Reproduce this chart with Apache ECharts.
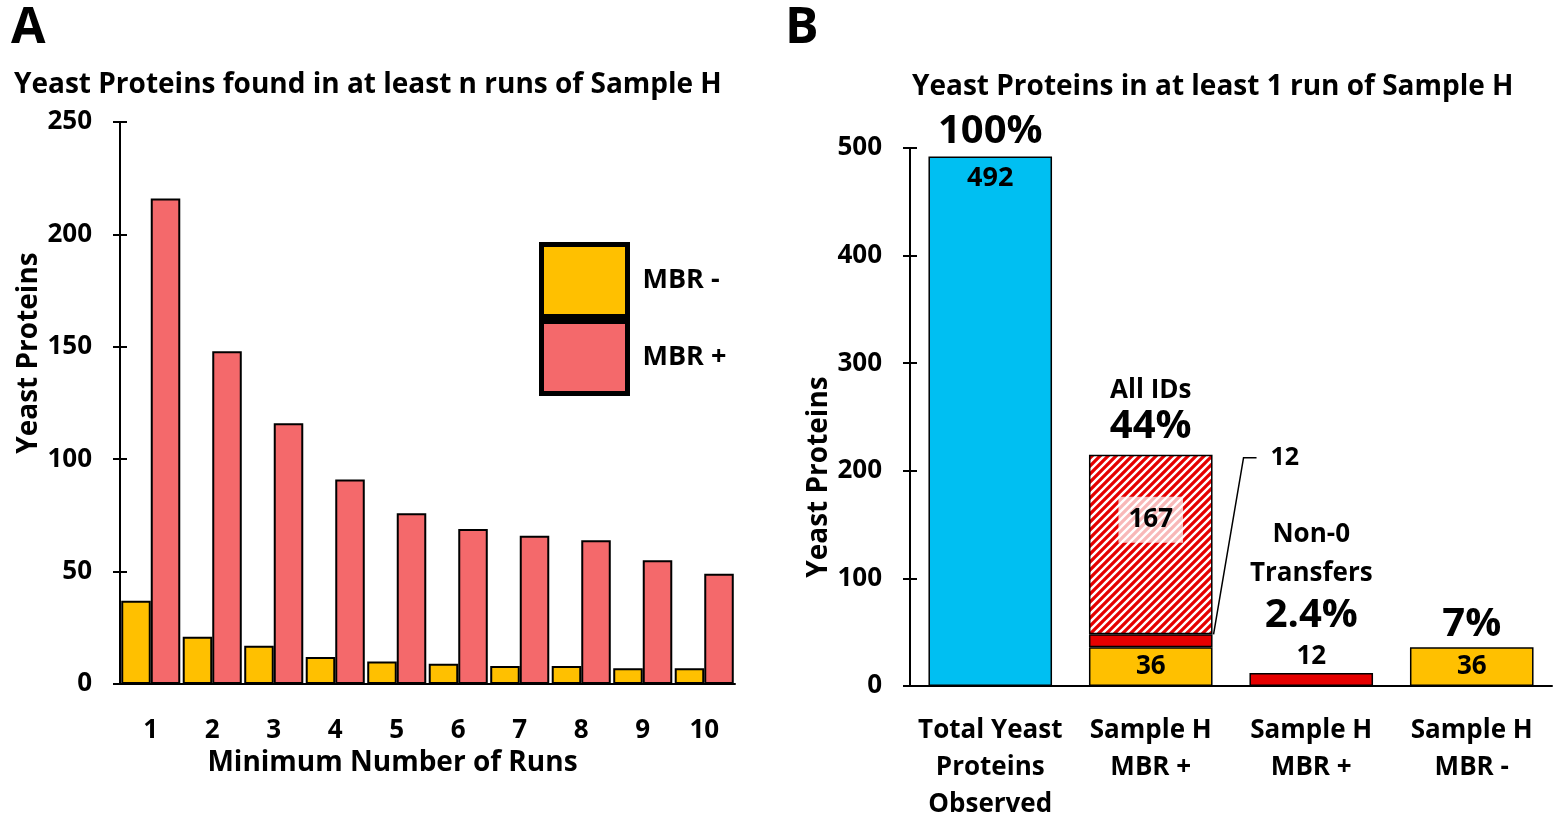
<!DOCTYPE html>
<html><head><meta charset="utf-8">
<script src="https://cdn.jsdelivr.net/npm/echarts@6/dist/echarts.min.js"></script>
<style>html,body{margin:0;padding:0;background:#fff}#c{width:1558px;height:823px}</style>
</head><body><div id="c"></div><script>
// Panel A data
const runs = ['1','2','3','4','5','6','7','8','9','10'];
const mbrMinus = [37, 21, 17, 12, 10, 9, 8, 8, 7, 7];
const mbrPlus = [216, 148, 116, 91, 76, 69, 66, 64, 55, 49];
// Panel B data
const bCategories = ['Total Yeast\nProteins\nObserved', 'Sample H\nMBR +', 'Sample H\nMBR +', 'Sample H\nMBR -'];
const bTotal = [492, '-', '-', '-'];
const bMbrMinus = ['-', 36, '-', 36];
const bTransfers = ['-', 12, 12, '-'];
const bOther = ['-', 167, '-', '-'];
const bNotes = ['{p|100%}', '{s|All IDs}\n{p|44%}', '{t|Non-0}\n{t|Transfers}\n{p|2.4%}\n{t|12}', '{p|7%}'];

const FONT = 'Open Sans';
const YEL = '#FFC000', SAL = '#F4696B', BLUE = '#00BFF2', RED = '#E60000';

// hatch pattern
const pc = document.createElement('canvas');
pc.width = 8; pc.height = 8;
const g = pc.getContext('2d');
g.fillStyle = RED; g.fillRect(0, 0, 8, 8);
g.strokeStyle = '#fff'; g.lineWidth = 2.4;
g.beginPath();
g.moveTo(-2, 10); g.lineTo(10, -2);
g.moveTo(-2, 2); g.lineTo(2, -2);
g.moveTo(6, 10); g.lineTo(10, 6);
g.stroke();

function stackTop(i) {
  let s = 0;
  [bTotal, bMbrMinus, bTransfers, bOther].forEach(a => { if (typeof a[i] === 'number') s += a[i]; });
  return s;
}
const noteDist = [2, 6, -4, 0];
const BAR_W = 0.77;

const chart = echarts.init(document.getElementById('c'), null, {renderer: 'canvas'});
const axisTxt = {color: '#000', fontFamily: FONT, fontWeight: 'bold', fontSize: 26};
const nameTxt = {color: '#000', fontFamily: FONT, fontWeight: 'bold', fontSize: 28};
const innerTickAxis = (gi, max, iv) => ({gridIndex: gi, type: 'value', min: 0, max: max, interval: iv, position: 'left',
  axisLine: {show: false}, axisLabel: {show: false}, splitLine: {show: false},
  axisTick: {show: true, inside: true, length: 7, lineStyle: {color: '#000', width: 2}}});
chart.setOption({
  animation: false,
  backgroundColor: '#fff',
  textStyle: {fontFamily: FONT},
  title: [
    {text: 'A', left: 6, top: -1, textStyle: {fontSize: 50, fontWeight: 'bold', fontFamily: FONT, color: '#000'}},
    {text: 'B', left: 780, top: -1, textStyle: {fontSize: 50, fontWeight: 'bold', fontFamily: FONT, color: '#000'}},
    {text: 'Yeast Proteins found in at least n runs of Sample H', left: 9, top: 66, textStyle: {fontSize: 28, fontWeight: 'bold', fontFamily: FONT, color: '#000'}},
    {text: 'Yeast Proteins in at least 1 run of Sample H', left: 907, top: 68, textStyle: {fontSize: 28, fontWeight: 'bold', fontFamily: FONT, color: '#000'}}
  ],
  legend: {
    data: [
      {name: 'MBR -', textStyle: {padding: [0, 0, 14, 10]}},
      {name: 'MBR +', textStyle: {padding: [0, 0, 34, 10]}}
    ],
    orient: 'vertical', left: 539, top: 242, padding: 0,
    itemWidth: 86, itemHeight: 72, itemGap: 0,
    icon: 'rect',
    itemStyle: {borderColor: '#000', borderWidth: 5},
    textStyle: {fontFamily: FONT, fontWeight: 'bold', fontSize: 27, color: '#000'},
    selectedMode: false
  },
  grid: [
    {left: 120, top: 122, width: 615, height: 562},
    {left: 910, top: 148, width: 642, height: 543}
  ],
  xAxis: [
    {gridIndex: 0, type: 'category', data: runs,
     axisLine: {lineStyle: {color: '#000', width: 2}}, axisTick: {show: false},
     axisLabel: Object.assign({margin: 34}, axisTxt),
     name: 'Minimum Number of Runs', nameLocation: 'middle', nameGap: 61,
     nameTextStyle: Object.assign({padding: [0, 70, 0, 0]}, nameTxt)},
    {gridIndex: 1, type: 'category', data: bCategories,
     axisLine: {lineStyle: {color: '#000', width: 2}}, axisTick: {show: false},
     axisLabel: Object.assign({margin: 26, interval: 0, lineHeight: 37}, axisTxt)}
  ],
  yAxis: [
    {gridIndex: 0, type: 'value', min: 0, max: 250, interval: 50,
     axisLine: {show: true, lineStyle: {color: '#000', width: 2}},
     axisTick: {show: true, length: 7, lineStyle: {color: '#000', width: 2}},
     splitLine: {show: false},
     axisLabel: Object.assign({margin: 28}, axisTxt),
     name: 'Yeast Proteins', nameLocation: 'middle', nameGap: 76,
     nameTextStyle: Object.assign({padding: [0, 0, 0, 100]}, nameTxt)},
    {gridIndex: 1, type: 'value', min: 0, max: 500, interval: 100,
     axisLine: {show: true, lineStyle: {color: '#000', width: 2}},
     axisTick: {show: true, length: 7, lineStyle: {color: '#000', width: 2}},
     splitLine: {show: false},
     axisLabel: Object.assign({margin: 28}, axisTxt),
     name: 'Yeast Proteins', nameLocation: 'middle', nameGap: 76,
     nameTextStyle: Object.assign({padding: [0, 120, 0, 0]}, nameTxt)},
    innerTickAxis(0, 250, 50),
    innerTickAxis(1, 500, 100)
  ],
  series: [
    {name: 'MBR -', type: 'bar', xAxisIndex: 0, yAxisIndex: 0, data: mbrMinus,
     barGap: '0%', barCategoryGap: '4%',
     itemStyle: {color: YEL, borderColor: '#000', borderWidth: 2}},
    {name: 'MBR +', type: 'bar', xAxisIndex: 0, yAxisIndex: 0, data: mbrPlus,
     barGap: '0%', barCategoryGap: '4%',
     itemStyle: {color: SAL, borderColor: '#000', borderWidth: 2}},
    {name: 'total', type: 'bar', stack: 'b', xAxisIndex: 1, yAxisIndex: 1, data: bTotal,
     barWidth: (BAR_W * 100) + '%',
     itemStyle: {color: BLUE, borderColor: '#000', borderWidth: 1.5},
     label: {show: true, position: 'insideTop', distance: 8, color: '#000', fontFamily: FONT, fontWeight: 'bold', fontSize: 27},
     markPoint: {
       symbol: 'rect', symbolSize: 1, itemStyle: {color: 'rgba(0,0,0,0)'},
       label: {show: true, position: 'top', color: '#000', fontFamily: FONT,
         formatter: p => p.data.note,
         rich: {p: {fontSize: 40, fontWeight: 'bold', fontFamily: FONT, lineHeight: 44},
                s: {fontSize: 26, fontWeight: 'bold', fontFamily: FONT, lineHeight: 28},
                t: {fontSize: 26, fontWeight: 'bold', fontFamily: FONT, lineHeight: 39}}},
       data: bNotes.map((n, i) => ({coord: [i, stackTop(i)], note: n, label: {distance: noteDist[i]}}))
     }},
    {name: 'minus', type: 'bar', stack: 'b', xAxisIndex: 1, yAxisIndex: 1, data: bMbrMinus,
     barWidth: (BAR_W * 100) + '%',
     itemStyle: {color: YEL, borderColor: '#000', borderWidth: 1.5},
     label: {show: true, position: 'inside', color: '#000', fontFamily: FONT, fontWeight: 'bold', fontSize: 26}},
    {name: 'transfers', type: 'bar', stack: 'b', xAxisIndex: 1, yAxisIndex: 1, data: bTransfers,
     barWidth: (BAR_W * 100) + '%',
     itemStyle: {color: RED, borderColor: '#000', borderWidth: 1.5}},
    {name: 'other', type: 'bar', stack: 'b', xAxisIndex: 1, yAxisIndex: 1, data: bOther,
     barWidth: (BAR_W * 100) + '%',
     itemStyle: {color: {image: pc, repeat: 'repeat'}, borderColor: '#000', borderWidth: 1.5},
     label: {show: true, position: 'insideTop', distance: 42, color: '#000', fontFamily: FONT, fontWeight: 'bold', fontSize: 26,
       backgroundColor: 'rgba(255,255,255,0.72)', padding: [10, 10]}}
  ]
});

// Leader line for the 12 transfers inside the stacked "Sample H MBR +" bar
(function () {
  const i = 1;
  const base = (typeof bMbrMinus[i] === 'number' ? bMbrMinus[i] : 0) + bTransfers[i];
  const p0 = chart.convertToPixel({xAxisIndex: 1, yAxisIndex: 1}, [i, base]);
  const p1 = chart.convertToPixel({xAxisIndex: 1, yAxisIndex: 1}, [i + 1, base]);
  const pTop = chart.convertToPixel({xAxisIndex: 1, yAxisIndex: 1}, [i, stackTop(i)]);
  const right = p0[0] + (p1[0] - p0[0]) * BAR_W / 2;
  const ly = pTop[1] + 3;
  chart.setOption({
    graphic: [
      {type: 'polyline', shape: {points: [[right + 1, p0[1]], [right + 31, ly], [right + 44, ly]]},
       style: {stroke: '#000', lineWidth: 1.5, fill: null}, z: 10},
      {type: 'text', x: right + 58, y: ly, z: 10,
       style: {text: String(bTransfers[i]), fill: '#000', font: 'bold 25px "Open Sans"', textVerticalAlign: 'middle', textAlign: 'left'}}
    ]
  });
})();
</script></body></html>
